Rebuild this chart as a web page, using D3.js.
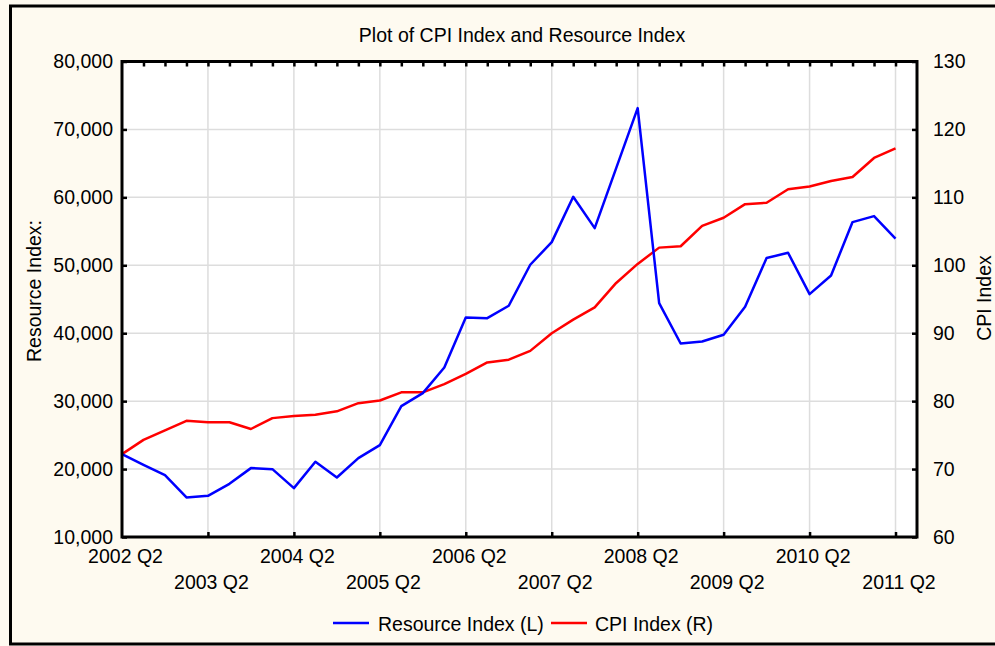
<!DOCTYPE html>
<html>
<head>
<meta charset="utf-8">
<script src="https://cdn.jsdelivr.net/npm/d3@7"></script>
<style>
  html, body { margin: 0; padding: 0; background: #fefaf0; }
  svg { display: block; }
  text { font-family: "Liberation Sans", Arial, sans-serif; fill: #000; }
</style>
</head>
<body>
<div id="chart"></div>
<script>
const quarters = [
  "2002 Q2","2002 Q3","2002 Q4",
  "2003 Q1","2003 Q2","2003 Q3","2003 Q4",
  "2004 Q1","2004 Q2","2004 Q3","2004 Q4",
  "2005 Q1","2005 Q2","2005 Q3","2005 Q4",
  "2006 Q1","2006 Q2","2006 Q3","2006 Q4",
  "2007 Q1","2007 Q2","2007 Q3","2007 Q4",
  "2008 Q1","2008 Q2","2008 Q3","2008 Q4",
  "2009 Q1","2009 Q2","2009 Q3","2009 Q4",
  "2010 Q1","2010 Q2","2010 Q3","2010 Q4",
  "2011 Q1","2011 Q2"
];
const resourceIndex = [22200,20630,19110,15820,16060,17830,20140,19990,17200,21070,
  18760,21620,23530,29270,31180,34960,42320,42220,44040,50080,
  53410,60080,55470,64300,73140,44430,38490,38790,39770,43890,
  51060,51840,45760,48500,56360,57240,53940];
const cpiIndex = [72.2,74.3,75.7,77.1,76.9,76.9,75.9,77.5,77.8,78.0,
  78.5,79.7,80.1,81.3,81.3,82.5,84.0,85.7,86.1,87.4,
  90.0,92.0,93.8,97.4,100.2,102.6,102.8,105.8,107.0,109.0,
  109.2,111.2,111.6,112.4,113.0,115.8,117.2];
const leftTicks = [10000,20000,30000,40000,50000,60000,70000,80000];
const rightTicks = [60,70,80,90,100,110,120,130];
const xTickLabels = ["2002 Q2","2003 Q2","2004 Q2","2005 Q2","2006 Q2","2007 Q2","2008 Q2","2009 Q2","2010 Q2","2011 Q2"];
const seriesNames = ["Resource Index (L)", "CPI Index (R)"];
const seriesColors = ["#0000ff", "#ff0000"];

const W = 995, H = 646;
const P = {left: 122, right: 917, top: 61.5, bottom: 537};
const FS = 19.5;

const svg = d3.select("#chart").append("svg").attr("width", W).attr("height", H);

// background & frame
svg.append("rect").attr("x",0).attr("y",0).attr("width",W).attr("height",H).attr("fill","#fefaf0");
svg.append("path").attr("d", `M${W+5},6 H10.5 V644 H${W+5}`)
  .attr("fill","none").attr("stroke","#000").attr("stroke-width",3);

const x = d3.scaleLinear().domain([0, quarters.length]).range([P.left, P.right]);
const yL = d3.scaleLinear().domain([10000, 80000]).range([P.bottom, P.top]);
const yR = d3.scaleLinear().domain([60, 130]).range([P.bottom, P.top]);

// plot background
svg.append("rect").attr("x",P.left).attr("y",P.top).attr("width",P.right-P.left).attr("height",P.bottom-P.top).attr("fill","#fff");

const yearIdx = xTickLabels.map(l => quarters.indexOf(l));

// grid
const grid = svg.append("g").attr("stroke","#dddddd").attr("stroke-width",1.5);
grid.selectAll("line.h").data(leftTicks.slice(1,-1)).join("line")
  .attr("x1",P.left).attr("x2",P.right).attr("y1",d=>yL(d)).attr("y2",d=>yL(d));
grid.selectAll("line.v").data(yearIdx.slice(1)).join("line")
  .attr("y1",P.top).attr("y2",P.bottom).attr("x1",d=>x(d)).attr("x2",d=>x(d));

// lines
const lineL = d3.line().x((d,i)=>x(i)).y(d=>yL(d));
const lineR = d3.line().x((d,i)=>x(i)).y(d=>yR(d));
svg.append("path").datum(cpiIndex).attr("d",lineR).attr("fill","none")
  .attr("stroke",seriesColors[1]).attr("stroke-width",2.5).attr("stroke-linejoin","round");
svg.append("path").datum(resourceIndex).attr("d",lineL).attr("fill","none")
  .attr("stroke",seriesColors[0]).attr("stroke-width",2.5).attr("stroke-linejoin","round");

function styleAxis(g){
  g.select(".domain").remove();
  g.selectAll(".tick line").attr("stroke","#000").attr("stroke-width",2.5);
  g.selectAll(".tick text").attr("font-size",FS).attr("font-family","Liberation Sans, Arial, sans-serif");
}

// left axis
const axL = svg.append("g").attr("transform",`translate(${P.left},0)`)
  .call(d3.axisLeft(yL).tickValues(leftTicks).tickFormat(d3.format(",")).tickSizeInner(-5).tickSizeOuter(0).tickPadding(9));
styleAxis(axL);

// right axis
const axR = svg.append("g").attr("transform",`translate(${P.right},0)`)
  .call(d3.axisRight(yR).tickValues(rightTicks).tickSizeInner(-5).tickSizeOuter(0).tickPadding(16));
styleAxis(axR);

// top axis: quarterly ticks, no labels
const axT = svg.append("g").attr("transform",`translate(0,${P.top})`)
  .call(d3.axisTop(x).tickValues(d3.range(1, quarters.length)).tickFormat("").tickSizeInner(-5).tickSizeOuter(0));
styleAxis(axT);

// bottom axis: yearly ticks & labels in two rows
const axB = svg.append("g").attr("transform",`translate(0,${P.bottom})`)
  .call(d3.axisBottom(x).tickValues(yearIdx).tickFormat(i=>quarters[i]).tickSizeInner(-5).tickSizeOuter(0).tickPadding(12));
styleAxis(axB);
axB.selectAll(".tick line").filter(d=>d===0).remove();
axB.selectAll(".tick text").attr("dx",3).attr("dy",(d,i)=> i%2 ? "2.05em" : "0.71em");

// axis frame
svg.append("rect").attr("x",P.left).attr("y",P.top).attr("width",P.right-P.left).attr("height",P.bottom-P.top)
  .attr("fill","none").attr("stroke","#000").attr("stroke-width",3);

// titles
svg.append("text").attr("x",522).attr("y",42).attr("text-anchor","middle").attr("font-size",FS)
  .text("Plot of CPI Index and Resource Index");
svg.append("text").attr("transform",`translate(41,291) rotate(-90)`).attr("text-anchor","middle").attr("font-size",FS)
  .text("Resource Index:");
svg.append("text").attr("transform",`translate(991,298) rotate(-90)`).attr("text-anchor","middle").attr("font-size",FS)
  .text("CPI Index");

// legend
const leg = svg.append("g");
const legItems = [{x:333, tx:378}, {x:551, tx:595}];
legItems.forEach((p,i)=>{
  leg.append("line").attr("x1",p.x).attr("x2",p.x+36).attr("y1",623).attr("y2",623)
    .attr("stroke",seriesColors[i]).attr("stroke-width",2.5);
  leg.append("text").attr("x",p.tx).attr("y",630.5).attr("font-size",FS).text(seriesNames[i]);
});
</script>
</body>
</html>
